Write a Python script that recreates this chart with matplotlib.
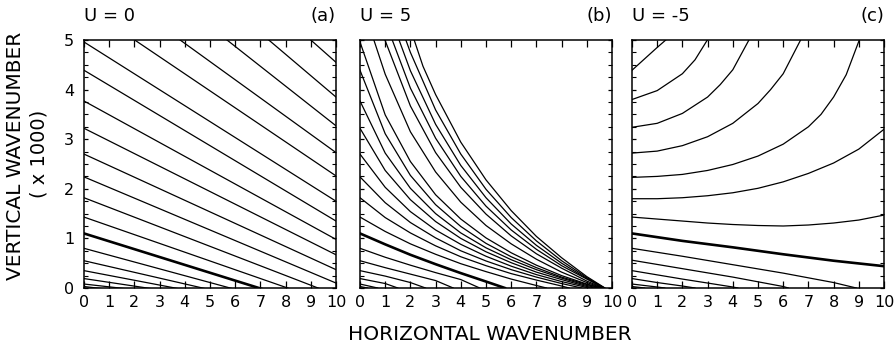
import numpy as np
import matplotlib.pyplot as plt

# panel (a), U = 0 : straight contours, value of m at k = 0 and at k = 10
a_m0 = [9.05, 8.16, 7.27, 6.40, 5.69, 4.96, 4.39, 3.77, 3.22, 2.70, 2.24, 1.82,
        1.43, 1.10, 0.80, 0.55, 0.35, 0.19, 0.08, 0.03]
a_m10 = [4.55, 3.85, 3.27, 2.73, 2.26, 1.75, 1.35, 0.98, 0.67, 0.37, 0.10, -0.14,
         -0.34, -0.485, -0.58, -0.62, -0.62, -0.57, -0.49, -0.57]
a_bold = 13

# panel (b), U = 5 : curves (k, m)
b_k = [
    [2.15, 2.5, 3, 4, 5, 6, 7, 8, 9, 9.72],
    [1.82, 2, 3, 4, 5, 6, 7, 8, 9, 9.7],
    [1.55, 2, 3, 4, 5, 6, 7, 8, 9, 9.7],
    [1.28, 2, 3, 4, 5, 6, 7, 8, 9, 9.68],
    [0.99, 2, 3, 4, 5, 6, 7, 8, 9, 9.66],
    [0.55, 1, 2, 3, 4, 5, 6, 7, 8, 9, 9.63],
    [0, 1, 2, 3, 4, 5, 6, 7, 8, 9, 9.6],
    [0, 1, 2, 3, 4, 5, 6, 7, 8, 9, 9.55],
    [0, 1, 2, 3, 4, 5, 6, 7, 8, 9, 9.45],
    [0, 1, 2, 3, 4, 5, 6, 7, 8, 9, 9.3],
    [0, 1, 2, 3, 4, 5, 6, 7, 8, 9, 9.1],
    [0, 1, 2, 3, 4, 5, 6, 7, 8, 8.8],
    [0, 1, 2, 3, 4, 5, 6, 7, 8, 8.3],
    [0, 1, 2, 3, 4, 5, 6, 7, 7.4],
    [0, 1, 2, 3, 4, 5, 5.75],
    [0, 1, 2, 3, 4, 4.75],
    [0, 1, 2, 3, 3.7],
    [0, 1, 2, 2.6],
    [0, 1, 1.5],
    [0, 0.7],
    [0, 0.3],
]
b_m = [
    [5, 4.47, 3.90, 2.94, 2.18, 1.56, 1.04, 0.61, 0.23, 0],
    [5, 4.75, 3.59, 2.70, 1.99, 1.42, 0.95, 0.55, 0.21, 0],
    [5, 4.38, 3.30, 2.47, 1.82, 1.29, 0.86, 0.50, 0.19, 0],
    [5, 4.03, 3.02, 2.25, 1.65, 1.17, 0.78, 0.45, 0.18, 0],
    [5, 3.67, 2.73, 2.03, 1.49, 1.05, 0.69, 0.40, 0.14, 0],
    [5, 4.31, 3.15, 2.34, 1.73, 1.26, 0.89, 0.58, 0.32, 0.11, 0],
    [4.96, 3.49, 2.55, 1.88, 1.39, 1.01, 0.71, 0.46, 0.25, 0.08, 0],
    [4.39, 3.11, 2.27, 1.68, 1.24, 0.90, 0.63, 0.41, 0.22, 0.07, 0],
    [3.77, 2.72, 2.01, 1.50, 1.11, 0.81, 0.57, 0.37, 0.20, 0.05, 0],
    [3.22, 2.37, 1.78, 1.34, 1.00, 0.73, 0.51, 0.32, 0.17, 0.03, 0],
    [2.70, 2.03, 1.54, 1.17, 0.88, 0.64, 0.44, 0.27, 0.13, 0.01, 0],
    [2.24, 1.72, 1.32, 1.01, 0.75, 0.545, 0.37, 0.22, 0.09, 0],
    [1.82, 1.42, 1.11, 0.85, 0.63, 0.45, 0.29, 0.16, 0.04, 0],
    [1.43, 1.14, 0.89, 0.68, 0.49, 0.33, 0.18, 0.05, 0],
    [1.10, 0.88, 0.67, 0.48, 0.30, 0.13, 0],
    [0.80, 0.62, 0.46, 0.31, 0.17, 0],
    [0.55, 0.41, 0.28, 0.15, 0],
    [0.35, 0.24, 0.11, 0],
    [0.19, 0.09, 0],
    [0.08, 0],
    [0.03, 0],
]
b_bold = 14

# panel (c), U = -5
c_k = [
    [0, 0.5, 1, 1.34],
    [0, 1, 2, 2.5, 2.99],
    [0, 1, 2, 3, 3.5, 4, 4.64],
    [0, 1, 2, 3, 4, 5, 5.5, 6, 6.69],
    [0, 1, 2, 3, 4, 5, 6, 7, 7.5, 8, 8.5, 9.02],
    [0, 1, 2, 3, 4, 5, 6, 7, 8, 9, 10],
    [0, 1, 2, 3, 4, 5, 6, 7, 8, 9, 10],
    [0, 2, 4, 6, 8, 10],
    [0, 2, 4, 6, 8, 8.9],
    [0, 2, 4, 6, 6.2],
    [0, 2, 4, 4.2],
    [0, 1, 2, 2.5],
    [0, 1, 1.3],
    [0, 0.5],
]
c_m = [
    [4.39, 4.62, 4.85, 5],
    [3.80, 3.98, 4.32, 4.6, 5],
    [3.24, 3.32, 3.52, 3.85, 4.1, 4.4, 5],
    [2.72, 2.76, 2.87, 3.05, 3.32, 3.72, 4.0, 4.32, 5],
    [2.23, 2.25, 2.29, 2.37, 2.49, 2.66, 2.9, 3.25, 3.5, 3.85, 4.3, 5],
    [1.80, 1.80, 1.82, 1.86, 1.92, 2.01, 2.14, 2.31, 2.52, 2.80, 3.20],
    [1.43, 1.39, 1.35, 1.31, 1.28, 1.26, 1.25, 1.27, 1.31, 1.37, 1.47],
    [1.10, 0.95, 0.82, 0.68, 0.55, 0.44],
    [0.80, 0.64, 0.47, 0.30, 0.11, 0],
    [0.56, 0.39, 0.22, 0.03, 0],
    [0.35, 0.18, 0.02, 0],
    [0.19, 0.11, 0.04, 0],
    [0.08, 0.02, 0],
    [0.03, 0],
]
c_bold = 7

titles = ['U = 0', 'U = 5', 'U = -5']
tags = ['(a)', '(b)', '(c)']
xticks = list(range(0, 11))
yticks = list(range(0, 6))

plt.rcParams['font.family'] = ['DejaVu Sans']
fig = plt.figure(figsize=(8.94, 3.5), dpi=100)
W, H = 894.0, 350.0
lefts = [84, 360, 632]
axes = []
for i, l in enumerate(lefts):
    ax = fig.add_axes([l / W, 62 / H, 252 / W, 248 / H])
    ax.set_xlim(0, 10)
    ax.set_ylim(0, 5)
    ax.set_xticks(xticks)
    ax.set_yticks(yticks)
    ax.set_yticks(np.arange(0, 5.01, 0.25), minor=True)
    ax.tick_params(which='major', direction='in', top=True, right=True,
                   length=5, width=0.9, labelsize=11.5, pad=5, colors='black')
    ax.tick_params(which='minor', direction='in', left=True, right=True,
                   bottom=False, top=False, length=3, width=0.8)
    if i > 0:
        ax.set_yticklabels([])
        ax.tick_params(axis='y', which='major', length=3)
    else:
        ax.tick_params(axis='y', which='major', length=3, pad=7)
    for s in ax.spines.values():
        s.set_linewidth(1.1)
    ax.text(0.0, 1.06, titles[i], transform=ax.transAxes, fontsize=13,
            ha='left', va='bottom')
    ax.text(1.0, 1.06, tags[i], transform=ax.transAxes, fontsize=13,
            ha='right', va='bottom')
    axes.append(ax)

# (a)
for j in range(len(a_m0)):
    lw = 1.9 if j == a_bold else 0.9
    axes[0].plot([0, 10], [a_m0[j], a_m10[j]], color='black', lw=lw)

# (b)
for j in range(len(b_k)):
    lw = 1.9 if j == b_bold else 0.9
    axes[1].plot(b_k[j], b_m[j], color='black', lw=lw)

# (c)
for j in range(len(c_k)):
    lw = 1.9 if j == c_bold else 0.9
    axes[2].plot(c_k[j], c_m[j], color='black', lw=lw)

fig.text(16 / W, 1 - 156 / H, 'VERTICAL WAVENUMBER', rotation=90,
         ha='center', va='center', fontsize=14.5)
fig.text(39 / W, 1 - 154 / H, '( x 1000)', rotation=90,
         ha='center', va='center', fontsize=14)
fig.text(490 / W, 1 - 334 / H, 'HORIZONTAL WAVENUMBER',
         ha='center', va='center', fontsize=14.5)

fig.savefig('out.png', dpi=100)
